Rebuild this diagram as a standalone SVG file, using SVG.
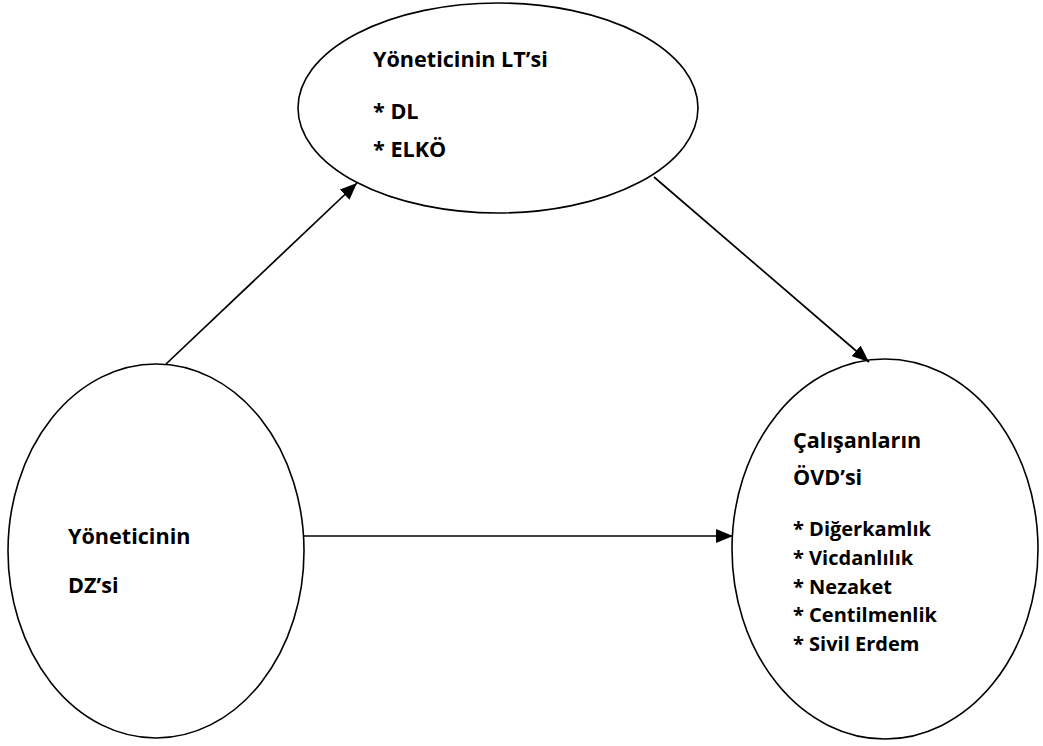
<svg xmlns="http://www.w3.org/2000/svg" width="1043" height="746" viewBox="0 0 1043 746">
<style>
.node{fill:#fff;stroke:#000;stroke-width:1.6}
.edge{fill:none;stroke:#000;stroke-width:1.7}
.lbl{font-family:"Open Sans","Liberation Sans",sans-serif;font-weight:bold;font-size:21.6px;fill:#000}
.item{font-size:20px}
</style>
<defs>
<marker id="arr" markerUnits="userSpaceOnUse" markerWidth="18" markerHeight="14" viewBox="0 0 18 14" refX="17" refY="7" orient="auto">
<path d="M0,0 L17,7 L0,14 Z" fill="#000"/>
</marker>
</defs>
<rect width="1043" height="746" fill="#fff"/>
<g id="node-lt">
<ellipse class="node" cx="498" cy="108" rx="200" ry="105"/>
<text class="lbl" x="373" y="67">Yöneticinin LT’si</text>
<text class="lbl" x="373" y="119">* DL</text>
<text class="lbl" x="373" y="157">* ELKÖ</text>
</g>
<g id="node-dz">
<ellipse class="node" cx="156" cy="551" rx="148" ry="187"/>
<text class="lbl" x="68" y="544">Yöneticinin</text>
<text class="lbl" x="68" y="593">DZ’si</text>
</g>
<g id="node-ovd">
<ellipse class="node" cx="885" cy="549" rx="153" ry="190"/>
<text class="lbl" x="793" y="448">Çalışanların</text>
<text class="lbl" x="793" y="485">ÖVD’si</text>
<text class="lbl item" x="793" y="536">* Diğerkamlık</text>
<text class="lbl item" x="793" y="565">* Vicdanlılık</text>
<text class="lbl item" x="793" y="594">* Nezaket</text>
<text class="lbl item" x="793" y="622">* Centilmenlik</text>
<text class="lbl item" x="793" y="651">* Sivil Erdem</text>
</g>
<g id="connectors">
<line class="edge" x1="166" y1="364" x2="357" y2="183" marker-end="url(#arr)"/>
<line class="edge" x1="654" y1="177" x2="869" y2="362" marker-end="url(#arr)"/>
<line class="edge" x1="304" y1="536" x2="733" y2="536" marker-end="url(#arr)"/>
</g>
</svg>
